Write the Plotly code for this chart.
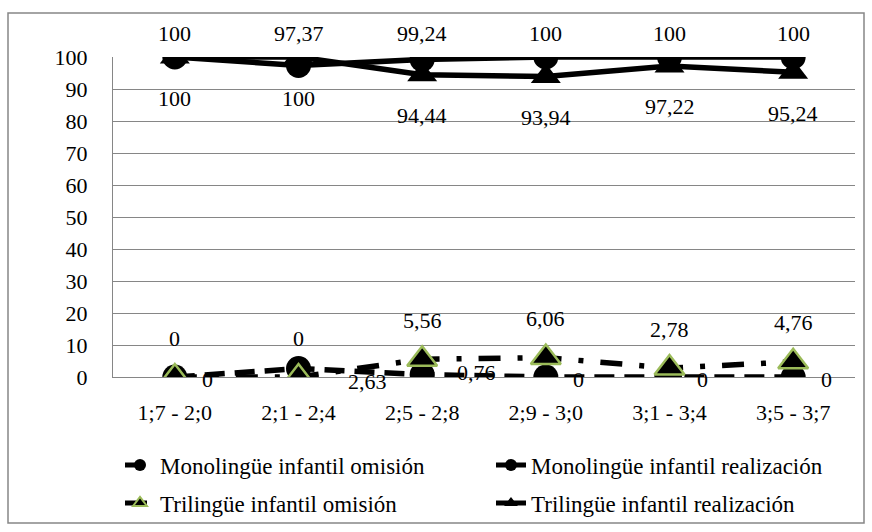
import plotly.graph_objects as go

categories = ["1;7 - 2;0", "2;1 - 2;4", "2;5 - 2;8", "2;9 - 3;0", "3;1 - 3;4", "3;5 - 3;7"]
mono_omision = [0, 2.63, 0.76, 0, 0, 0]
mono_realizacion = [100, 97.37, 99.24, 100, 100, 100]
tri_omision = [0, 0, 5.56, 6.06, 2.78, 4.76]
tri_realizacion = [100, 100, 94.44, 93.94, 97.22, 95.24]
y_ticks = list(range(0, 101, 10))

FONT = "'Liberation Serif', 'Times New Roman', Times, serif"
FS = 22
GRID = "#868686"
GREEN = "#9BBB59"

def fmt(v):
    return f"{v:g}".replace(".", ",")

fig = go.Figure()

fig.add_trace(go.Scatter(
    x=categories, y=mono_omision, name="Monolingüe infantil omisión",
    mode="lines+markers", legend="legend", showlegend=True,
    line=dict(color="black", width=5.5, dash="20px,10px"),
    marker=dict(symbol="circle", size=25, color="black"),
))
fig.add_trace(go.Scatter(
    x=categories, y=mono_realizacion, name="Monolingüe infantil realización",
    mode="lines+markers", legend="legend2", showlegend=True,
    line=dict(color="black", width=5.5),
    marker=dict(symbol="circle", size=25, color="black"),
))
fig.add_trace(go.Scatter(
    x=categories, y=tri_omision, name="Trilingüe infantil omisión",
    mode="lines+markers", legend="legend3", showlegend=True,
    line=dict(color="black", width=5.5, dash="22px,17px,5px,17px"),
    marker=dict(symbol="triangle-up", size=26, color="black",
                line=dict(color=GREEN, width=2.5)),
))
fig.add_trace(go.Scatter(
    x=categories, y=tri_realizacion, name="Trilingüe infantil realización",
    mode="lines+markers", legend="legend4", showlegend=True,
    line=dict(color="black", width=5.5),
    marker=dict(symbol="triangle-up", size=26, color="black"),
))

# data label offsets (styling only)
mono_om_dx = [33, 69, 54, 33, 33, 33]
mono_om_dy = [-2, -13, 2, -2, -2, -2]
mono_re_dy = [24, 32, 26, 24, 24, 24]
tri_om_dy = 39
tri_re_dy = -41

ann = []
for i, c in enumerate(categories):
    ann.append(dict(x=c, y=mono_omision[i], text=fmt(mono_omision[i]),
                    xshift=mono_om_dx[i], yshift=mono_om_dy[i]))
    ann.append(dict(x=c, y=mono_realizacion[i], text=fmt(mono_realizacion[i]),
                    yshift=mono_re_dy[i]))
    ann.append(dict(x=c, y=tri_omision[i], text=fmt(tri_omision[i]),
                    yshift=tri_om_dy))
    ann.append(dict(x=c, y=tri_realizacion[i], text=fmt(tri_realizacion[i]),
                    yshift=tri_re_dy))
for a in ann:
    a.update(xref="x", yref="y", showarrow=False, xanchor="center",
             yanchor="middle", font=dict(family=FONT, size=FS, color="black"))

L, R, T, B = 113, 17, 57, 155
PW = 872 - L - R
PH = 532 - T - B

def px(xp):
    return (xp - L) / PW

def py(yp):
    return (532 - B - yp) / PH

legend_common = dict(
    orientation="h", xanchor="left", yanchor="middle",
    font=dict(family=FONT, size=FS + 1, color="black"),
    itemsizing="constant", bgcolor="rgba(0,0,0,0)", visible=True,
)

fig.update_layout(
    width=872, height=532,
    margin=dict(l=L, r=R, t=T, b=B, autoexpand=False),
    paper_bgcolor="white", plot_bgcolor="white",
    font=dict(family=FONT, size=FS, color="black"),
    showlegend=True,
    annotations=ann,
    legend=dict(x=px(120), y=py(465), **legend_common),
    legend2=dict(x=px(491), y=py(465), **legend_common),
    legend3=dict(x=px(120), y=py(503), **legend_common),
    legend4=dict(x=px(491), y=py(503), **legend_common),
    xaxis=dict(
        type="category", range=[-0.5, 5.5],
        showgrid=False, showline=True, linecolor=GRID, linewidth=1,
        ticks="", ticklabelstandoff=16,
        tickfont=dict(family=FONT, size=FS, color="black"),
    ),
    yaxis=dict(
        range=[0, 100], tickvals=y_ticks,
        showgrid=True, gridcolor=GRID, gridwidth=1,
        showline=True, linecolor=GRID, linewidth=1, zeroline=False,
        ticks="", ticklabelstandoff=20,
        tickfont=dict(family=FONT, size=FS, color="black"),
    ),
    shapes=[dict(type="rect", xref="paper", yref="paper",
                 x0=px(8), x1=px(864), y0=py(523), y1=py(13),
                 line=dict(color=GRID, width=1.5), layer="below")],
)

fig.write_html("out.html")
